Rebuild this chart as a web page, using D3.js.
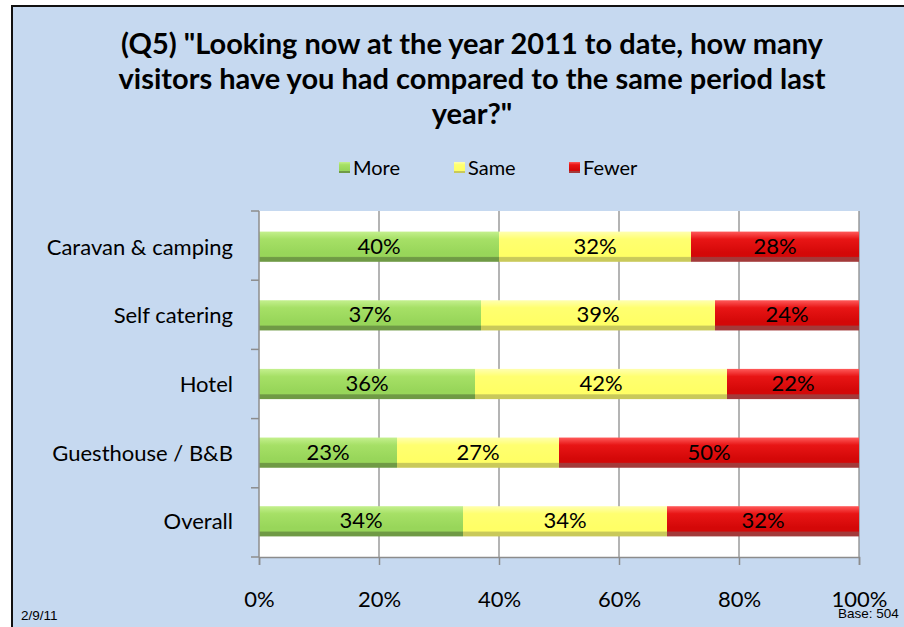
<!DOCTYPE html>
<html lang="en">
<head>
<meta charset="UTF-8">
<title>Q5 visitors chart</title>
<script src="https://d3js.org/d3.v7.min.js"></script>
<style>
    body { margin: 0; background: #fff; }
    svg { display: block; }
    .cat { font-family: Lato, "Open Sans", sans-serif; font-size: 22px; fill: #000; }
    .val { font-family: Lato, "Open Sans", sans-serif; font-size: 22px; fill: #000; }
</style>
</head>
<body>
<div id="chart"></div>
<script>
    var categories = ["Caravan & camping", "Self catering", "Hotel", "Guesthouse / B&B", "Overall"];
    var series = ["More", "Same", "Fewer"];
    var more = [40, 37, 36, 23, 34];
    var same = [32, 39, 42, 27, 34];
    var fewer = [28, 24, 22, 50, 32];
    var xTicks = [0, 20, 40, 60, 80, 100];
    var titleLines = ['(Q5) "Looking now at the year 2011 to date, how many',
                      'visitors have you had compared to the same period last',
                      'year?"'];

    var w = 904, h = 627;
    var plotLeft = 259, plotRight = 859, plotTop = 211, plotBottom = 557;

    var svg = d3.select("#chart").append("svg")
        .attr("width", w).attr("height", h);

    // gradients for the bevelled bars
    var grads = {
        More:  ["#c4f08e", "#a6e066", "#98d65a", "#6f9a45"],
        Same:  ["#ffffb0", "#ffff70", "#ffff66", "#c9c95a"],
        Fewer: ["#ff5a5a", "#e81515", "#d40808", "#a33a3a"]
    };
    var defs = svg.append("defs");
    series.forEach(function(s) {
        var g = defs.append("linearGradient").attr("id", "g" + s)
            .attr("x1", 0).attr("y1", 0).attr("x2", 0).attr("y2", 1);
        var c = grads[s];
        g.append("stop").attr("offset", "0%").attr("stop-color", c[0]);
        g.append("stop").attr("offset", "25%").attr("stop-color", c[1]);
        g.append("stop").attr("offset", "70%").attr("stop-color", c[2]);
        g.append("stop").attr("offset", "82%").attr("stop-color", c[2]);
        g.append("stop").attr("offset", "86%").attr("stop-color", c[3]);
        g.append("stop").attr("offset", "100%").attr("stop-color", c[3]);
    });

    // chart frame
    svg.append("rect")
        .attr("x", 12).attr("y", 6).attr("width", w + 10).attr("height", h + 10)
        .attr("fill", "#c6d9f0").attr("stroke", "#111").attr("stroke-width", 2);

    // title
    svg.append("g").selectAll("text").data(titleLines).enter().append("text")
        .attr("x", 472)
        .attr("y", function(d, i) { return 54 + i * 35; })
        .attr("text-anchor", "middle")
        .style("font-family", "Lato, 'Open Sans', sans-serif")
        .style("font-weight", "bold")
        .style("font-size", "29px")
        .text(function(d) { return d; });

    var x = d3.scaleLinear().domain([0, 100]).range([plotLeft, plotRight]);
    var y = d3.scaleBand().domain(categories).range([plotTop, plotBottom]).paddingInner(0.56).paddingOuter(0.3);
    var yOuter = d3.scaleBand().domain(categories).range([plotTop, plotBottom]);

    // plot area
    svg.append("rect")
        .attr("x", plotLeft).attr("y", plotTop)
        .attr("width", plotRight - plotLeft).attr("height", plotBottom - plotTop)
        .attr("fill", "#fff");

    // gridlines
    svg.append("g").selectAll("line").data(xTicks.slice(1)).enter().append("line")
        .attr("x1", function(d) { return x(d); }).attr("x2", function(d) { return x(d); })
        .attr("y1", plotTop).attr("y2", plotBottom)
        .attr("stroke", "#8c8c8c").attr("stroke-width", 1.3);

    // stacked bars
    var rows = categories.map(function(c, i) {
        return { cat: c, More: more[i], Same: same[i], Fewer: fewer[i] };
    });
    var stacked = d3.stack().keys(series)(rows);

    stacked.forEach(function(layer) {
        var g = svg.append("g");
        g.selectAll("rect").data(layer).enter().append("rect")
            .attr("x", function(d) { return x(d[0]); })
            .attr("y", function(d) { return y(d.data.cat); })
            .attr("width", function(d) { return x(d[1]) - x(d[0]); })
            .attr("height", y.bandwidth())
            .attr("fill", "url(#g" + layer.key + ")");
        g.selectAll("text").data(layer).enter().append("text")
            .attr("class", "val")
            .attr("x", function(d) { return (x(d[0]) + x(d[1])) / 2; })
            .attr("y", function(d) { return y(d.data.cat) + y.bandwidth() / 2 + 7; })
            .attr("text-anchor", "middle")
            .text(function(d) { return (d[1] - d[0]) + "%"; });
    });

    // x axis
    var xAxis = svg.append("g")
        .attr("transform", "translate(0," + plotBottom + ")")
        .call(d3.axisBottom(x).tickValues(xTicks).tickSize(8).tickPadding(26)
            .tickFormat(function(d) { return d + "%"; }));
    xAxis.select(".domain").attr("stroke", "#8c8c8c").attr("stroke-width", 1.5);
    xAxis.selectAll(".tick line").attr("stroke", "#8c8c8c").attr("stroke-width", 1.5);
    xAxis.selectAll(".tick text")
        .style("font-family", "Lato, 'Open Sans', sans-serif").style("font-size", "22px").attr("fill", "#000");

    // y axis with ticks between categories
    var yAxis = svg.append("g");
    yAxis.append("line")
        .attr("x1", plotLeft).attr("x2", plotLeft).attr("y1", plotTop).attr("y2", plotBottom)
        .attr("stroke", "#8c8c8c").attr("stroke-width", 1.5);
    var bounds = categories.map(function(c) { return yOuter(c); }).concat([plotBottom]);
    yAxis.selectAll(".yt").data(bounds).enter().append("line")
        .attr("x1", plotLeft - 8).attr("x2", plotLeft)
        .attr("y1", function(d) { return d; }).attr("y2", function(d) { return d; })
        .attr("stroke", "#8c8c8c").attr("stroke-width", 1.5);
    yAxis.selectAll("text").data(categories).enter().append("text")
        .attr("class", "cat")
        .attr("x", plotLeft - 26)
        .attr("y", function(d) { return y(d) + y.bandwidth() / 2 + 8; })
        .attr("text-anchor", "end")
        .text(function(d) { return d; });

    // legend
    var legendX = [339, 454, 569];
    var legend = svg.append("g");
    series.forEach(function(s, i) {
        legend.append("rect")
            .attr("x", legendX[i]).attr("y", 162).attr("width", 11).attr("height", 11)
            .attr("fill", "url(#g" + s + ")");
        legend.append("text")
            .attr("x", legendX[i] + 14).attr("y", 175)
            .style("font-family", "Lato, 'Open Sans', sans-serif").style("font-size", "20px")
            .text(s);
    });

    // footer
    svg.append("text").attr("x", 21).attr("y", 620)
        .style("font-family", "'Liberation Sans', Arial, sans-serif").style("font-size", "13.5px")
        .text("2/9/11");
    svg.append("text").attr("x", 838).attr("y", 618)
        .style("font-family", "'Liberation Sans', Arial, sans-serif").style("font-size", "13.5px")
        .text("Base: 504");
</script>
</body>
</html>
